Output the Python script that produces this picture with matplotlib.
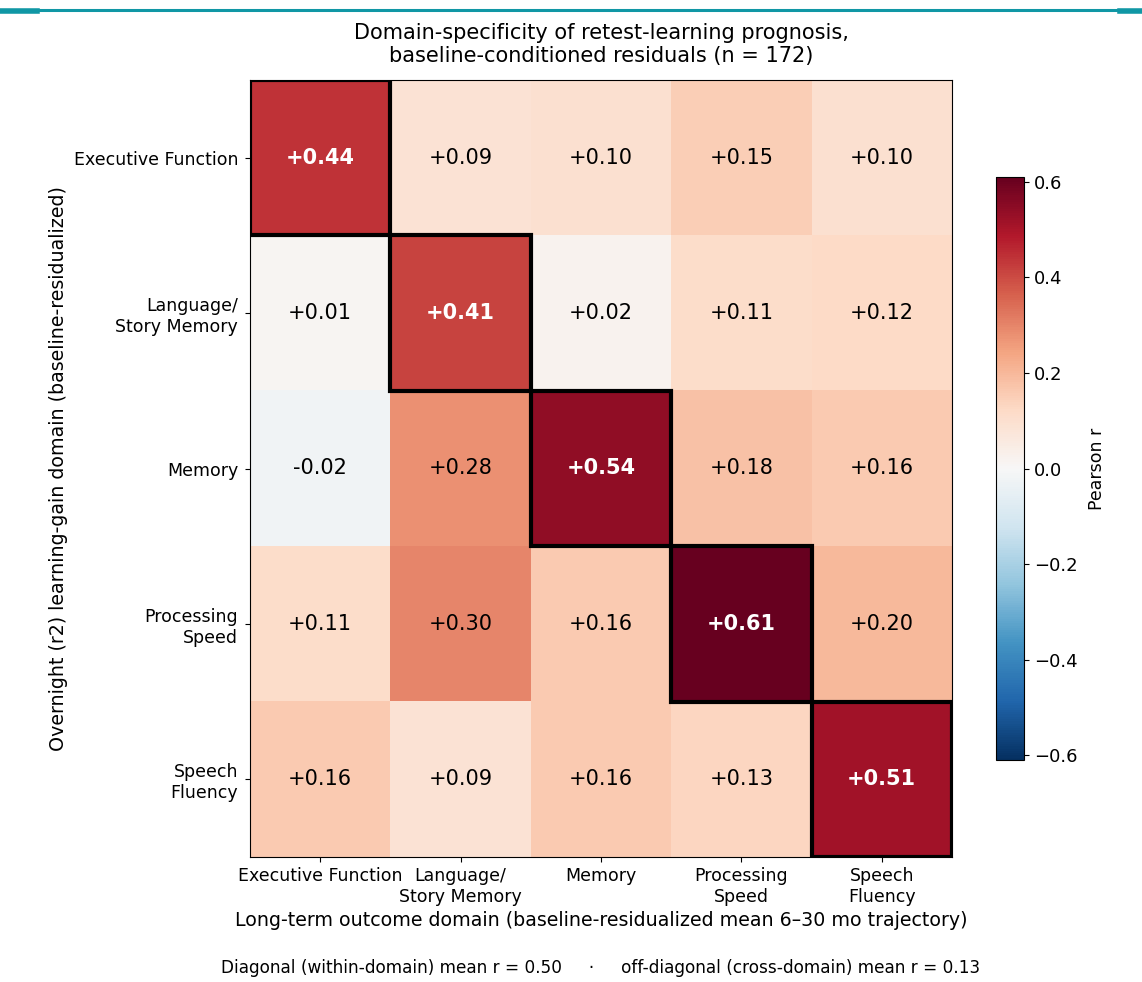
import numpy as np
import matplotlib
matplotlib.use("Agg")
import matplotlib.pyplot as plt
from matplotlib.patches import Rectangle
from matplotlib.lines import Line2D

# domener
row_labels = ["Executive Function", "Language/\nStory Memory", "Memory", "Processing\nSpeed", "Speech\nFluency"]
col_labels = ["Executive Function", "Language/\nStory Memory", "Memory", "Processing\nSpeed", "Speech\nFluency"]

# korrelasjoner (rad = overnight, kolonne = langtids)
r_ef = [0.44, 0.09, 0.10, 0.15, 0.10]
r_lang = [0.01, 0.41, 0.02, 0.11, 0.12]
r_mem = [-0.02, 0.28, 0.54, 0.18, 0.16]
r_ps = [0.11, 0.30, 0.16, 0.61, 0.20]
r_sf = [0.16, 0.09, 0.16, 0.13, 0.51]

mat = np.array([r_ef, r_lang, r_mem, r_ps, r_sf])
n = len(row_labels)
vmax = np.abs(mat).max()

fig = plt.figure(figsize=(11.42, 9.82), dpi=100)
ax = fig.add_axes([250/1142, 125/982, 702/1142, 777/982])
cax = fig.add_axes([996/1142, 222/982, 28/1142, 583/982])

im = ax.imshow(mat, cmap="RdBu_r", vmin=-vmax, vmax=vmax, aspect="auto")

for i in range(n):
    for j in range(n):
        v = mat[i, j]
        diag = i == j
        ax.text(j, i, f"{v:+.2f}" if v >= 0 else f"{v:.2f}", ha="center", va="center",
                fontsize=15, color="white" if diag else "black",
                fontweight="bold" if diag else "normal")
    ax.add_patch(Rectangle((i - 0.5, i - 0.5), 1, 1, fill=False, edgecolor="black", lw=3, zorder=3))

ax.set_xticks(range(n))
ax.set_xticklabels(col_labels, fontsize=12.5)
ax.set_yticks(range(n))
ax.set_yticklabels(row_labels, fontsize=12.5)
ax.tick_params(axis="y", pad=5)
ax.set_xlabel("Long-term outcome domain (baseline-residualized mean 6\u201330 mo trajectory)", fontsize=13.7)
ax.set_ylabel("Overnight (r2) learning-gain domain (baseline-residualized)", fontsize=13.7, labelpad=4)
ax.set_title("Domain-specificity of retest-learning prognosis,\nbaseline-conditioned residuals (n = 172)",
             fontsize=15, pad=13)

cb = fig.colorbar(im, cax=cax)
cb.set_ticks([-0.6, -0.4, -0.2, 0.0, 0.2, 0.4, 0.6])
cb.ax.tick_params(labelsize=13)
cb.set_label("Pearson r", fontsize=12.5, labelpad=8)

diag_mean = np.mean(np.diag(mat))
off_mean = mat[~np.eye(n, dtype=bool)].mean()
fig.text(601/1142, 14/982,
         f"Diagonal (within-domain) mean r = {diag_mean:.2f}     \u00b7     off-diagonal (cross-domain) mean r = {off_mean:.2f}",
         ha="center", va="center", fontsize=12.2)

# topp-linje
teal = "#1097a5"
fig.add_artist(Line2D([37/1142, 1120/1142], [1 - 10/982] * 2, color=teal, lw=2.2, transform=fig.transFigure))
fig.add_artist(Line2D([0, 37/1142], [1 - 11/982] * 2, color=teal, lw=4, transform=fig.transFigure))
fig.add_artist(Line2D([1120/1142, 1], [1 - 11/982] * 2, color=teal, lw=4, transform=fig.transFigure))

fig.savefig("out.png", dpi=100)
